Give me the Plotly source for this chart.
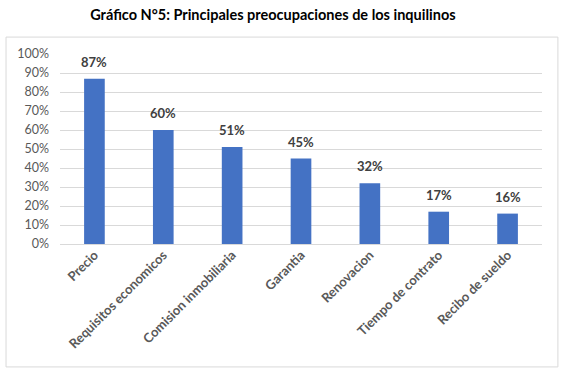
import plotly.graph_objects as go

categories = ["Precio", "Requisitos economicos", "Comision inmobiliaria", "Garantia",
              "Renovacion", "Tiempo de contrato", "Recibo de sueldo"]
values = [0.87, 0.60, 0.51, 0.45, 0.32, 0.17, 0.16]
value_labels = ["87%", "60%", "51%", "45%", "32%", "17%", "16%"]
tick_vals = [0, 0.1, 0.2, 0.3, 0.4, 0.5, 0.6, 0.7, 0.8, 0.9, 1.0]
tick_text = ["0%", "10%", "20%", "30%", "40%", "50%", "60%", "70%", "80%", "90%", "100%"]
title = "Gráfico N°5: Principales preocupaciones de los inquilinos"

FONT = "Lato"

fig = go.Figure(go.Bar(
    x=categories, y=values,
    marker=dict(color="#4472C4", line=dict(width=0)),
    cliponaxis=False, hoverinfo="x+y",
))

annotations = [
    dict(x=c, y=v, text="<b>" + t + "</b>", showarrow=False, xref="x", yref="y",
         yanchor="bottom", yshift=7,
         font=dict(family=FONT, size=13, color="#404040"))
    for c, v, t in zip(categories, values, value_labels)
]

fig.update_layout(
    width=565, height=382,
    margin=dict(l=60, r=23, t=54, b=138),
    paper_bgcolor="white", plot_bgcolor="white",
    bargap=0.7,
    showlegend=False,
    annotations=annotations,
    title=dict(text="<b>" + title + "</b>", x=0.483, xanchor="center", y=0.962, yanchor="middle",
               font=dict(family=FONT, size=14.5, color="#000000")),
    xaxis=dict(tickangle=-45, showgrid=False, showline=False, ticks="", automargin=False,
               tickfont=dict(family=FONT, size=13, color="#595959", weight="bold")),
    yaxis=dict(range=[0, 1], tickvals=tick_vals, ticktext=tick_text, automargin=False,
               showgrid=True, gridcolor="#D9D9D9", gridwidth=1,
               zeroline=True, zerolinecolor="#D9D9D9", zerolinewidth=1,
               showline=False, ticks="", ticklabelstandoff=10,
               tickfont=dict(family=FONT, size=12.5, color="#595959")),
    shapes=[dict(type="rect", xref="paper", yref="paper",
                 x0=-0.112, x1=1.033, y0=-0.647, y1=1.089,
                 line=dict(color="#D9D9D9", width=1), fillcolor="rgba(0,0,0,0)", layer="below")],
)

fig.write_html("out.html", config={"displayModeBar": False},
               post_script="document.body.style.margin='0';document.body.style.overflow='hidden';")
